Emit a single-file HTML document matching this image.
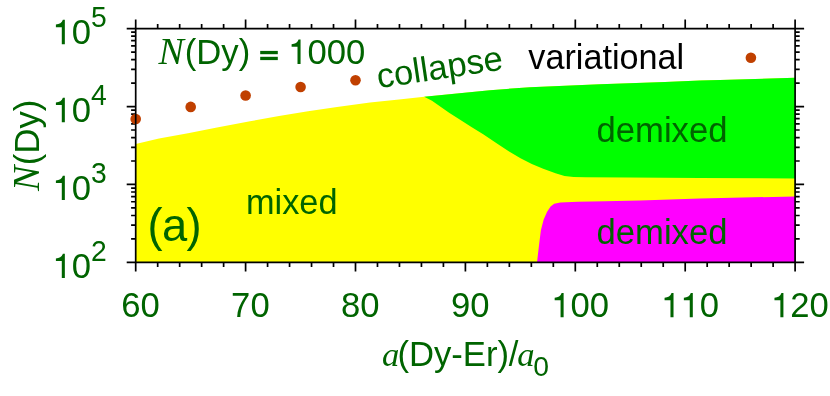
<!DOCTYPE html>
<html><head><meta charset="utf-8"><title>phase diagram</title>
<style>
html,body{margin:0;padding:0;background:#fff;}
body{width:830px;height:396px;overflow:hidden;font-family:"Liberation Sans",sans-serif;}
svg{display:block;will-change:transform;}
</style></head><body>
<svg width="830" height="396" viewBox="0 0 830 396">
<rect width="830" height="396" fill="#fff"/>
<polygon fill="#ffff00" points="135.7,144.0 159.0,138.5 188.0,133.2 217.0,127.4 250.0,121.2 279.0,116.1 308.0,111.3 337.0,107.0 370.0,102.4 399.0,99.6 424.2,96.8 457.0,93.4 490.0,90.2 530.0,87.2 600.0,84.3 665.0,82.0 700.0,80.4 720.0,80.0 795.1,77.8 795.1,262.4 135.7,262.4"/>
<polygon fill="#00ff00" points="424.2,96.8 457.0,93.4 490.0,90.2 530.0,87.2 600.0,84.3 665.0,82.0 700.0,80.4 720.0,80.0 795.1,77.8 795.1,178.5 700.0,178.0 630.0,177.5 586.0,177.3 573.6,177.0 564.5,176.1 555.5,173.3 543.2,168.8 531.8,164.0 520.5,158.3 509.1,151.6 497.7,144.0 483.2,134.3 471.8,127.2 460.5,120.1 449.1,112.7 437.7,104.8 432.0,100.8"/>
<polygon fill="#ff00ff" points="537.0,262.4 539.1,244.5 540.9,230.3 543.6,219.7 547.1,211.8 550.6,206.5 554.2,203.8 560.3,202.4 578.0,201.7 605.0,201.2 640.0,200.4 700.0,198.6 795.1,196.4 795.1,262.4"/>
<path d="M135.70 262.40v9.00M135.70 28.60v-9.00M157.68 262.40v4.60M157.68 28.60v-4.60M179.66 262.40v4.60M179.66 28.60v-4.60M201.64 262.40v4.60M201.64 28.60v-4.60M223.62 262.40v4.60M223.62 28.60v-4.60M245.60 262.40v9.00M245.60 28.60v-9.00M267.58 262.40v4.60M267.58 28.60v-4.60M289.56 262.40v4.60M289.56 28.60v-4.60M311.54 262.40v4.60M311.54 28.60v-4.60M333.52 262.40v4.60M333.52 28.60v-4.60M355.50 262.40v9.00M355.50 28.60v-9.00M377.48 262.40v4.60M377.48 28.60v-4.60M399.46 262.40v4.60M399.46 28.60v-4.60M421.44 262.40v4.60M421.44 28.60v-4.60M443.42 262.40v4.60M443.42 28.60v-4.60M465.40 262.40v9.00M465.40 28.60v-9.00M487.38 262.40v4.60M487.38 28.60v-4.60M509.36 262.40v4.60M509.36 28.60v-4.60M531.34 262.40v4.60M531.34 28.60v-4.60M553.32 262.40v4.60M553.32 28.60v-4.60M575.30 262.40v9.00M575.30 28.60v-9.00M597.28 262.40v4.60M597.28 28.60v-4.60M619.26 262.40v4.60M619.26 28.60v-4.60M641.24 262.40v4.60M641.24 28.60v-4.60M663.22 262.40v4.60M663.22 28.60v-4.60M685.20 262.40v9.00M685.20 28.60v-9.00M707.18 262.40v4.60M707.18 28.60v-4.60M729.16 262.40v4.60M729.16 28.60v-4.60M751.14 262.40v4.60M751.14 28.60v-4.60M773.12 262.40v4.60M773.12 28.60v-4.60M795.10 262.40v9.00M795.10 28.60v-9.00M135.70 262.40h-9.00M795.10 262.40h9.00M135.70 238.94h-4.60M795.10 238.94h4.60M135.70 225.22h-4.60M795.10 225.22h4.60M135.70 215.48h-4.60M795.10 215.48h4.60M135.70 207.93h-4.60M795.10 207.93h4.60M135.70 201.76h-4.60M795.10 201.76h4.60M135.70 196.54h-4.60M795.10 196.54h4.60M135.70 192.02h-4.60M795.10 192.02h4.60M135.70 188.03h-4.60M795.10 188.03h4.60M135.70 184.47h-9.00M795.10 184.47h9.00M135.70 161.01h-4.60M795.10 161.01h4.60M135.70 147.28h-4.60M795.10 147.28h4.60M135.70 137.55h-4.60M795.10 137.55h4.60M135.70 129.99h-4.60M795.10 129.99h4.60M135.70 123.82h-4.60M795.10 123.82h4.60M135.70 118.61h-4.60M795.10 118.61h4.60M135.70 114.09h-4.60M795.10 114.09h4.60M135.70 110.10h-4.60M795.10 110.10h4.60M135.70 106.53h-9.00M795.10 106.53h9.00M135.70 83.07h-4.60M795.10 83.07h4.60M135.70 69.35h-4.60M795.10 69.35h4.60M135.70 59.61h-4.60M795.10 59.61h4.60M135.70 52.06h-4.60M795.10 52.06h4.60M135.70 45.89h-4.60M795.10 45.89h4.60M135.70 40.67h-4.60M795.10 40.67h4.60M135.70 36.15h-4.60M795.10 36.15h4.60M135.70 32.17h-4.60M795.10 32.17h4.60M135.70 28.60h-9.00M795.10 28.60h9.00" fill="none" stroke="#000" stroke-width="1.70" stroke-linecap="butt"/>
<circle cx="135.7" cy="119.0" r="5.3" fill="#c04000"/>
<circle cx="190.7" cy="106.9" r="5.3" fill="#c04000"/>
<circle cx="245.6" cy="95.5" r="5.3" fill="#c04000"/>
<circle cx="300.6" cy="87.0" r="5.3" fill="#c04000"/>
<circle cx="355.5" cy="80.2" r="5.3" fill="#c04000"/>
<circle cx="750.9" cy="57.7" r="5.3" fill="#c04000"/>
<path d="M135.70 28.60H795.10V262.40H135.70Z" fill="none" stroke="#000" stroke-width="1.70" stroke-linejoin="miter"/>
<g font-family="'Liberation Sans', sans-serif" font-size="34.67" fill="#006400">
<text transform="translate(121.22 317.30) scale(1 1.025)" font-size="34.67">6</text><text transform="translate(140.50 317.30) scale(1 1.025)" font-size="34.67">0</text>
<text transform="translate(231.12 317.30) scale(1 1.025)" font-size="34.67">7</text><text transform="translate(250.40 317.30) scale(1 1.025)" font-size="34.67">0</text>
<text transform="translate(341.02 317.30) scale(1 1.025)" font-size="34.67">8</text><text transform="translate(360.30 317.30) scale(1 1.025)" font-size="34.67">0</text>
<text transform="translate(450.92 317.30) scale(1 1.025)" font-size="34.67">9</text><text transform="translate(470.20 317.30) scale(1 1.025)" font-size="34.67">0</text>
<path transform="translate(551.17 317.30) scale(0.03467 -0.03467)" d="M271 0V492H101V566C200 575 275 610 302 703H359V0Z"/><text transform="translate(570.46 317.30) scale(1 1.025)" font-size="34.67">0</text><text transform="translate(589.74 317.30) scale(1 1.025)" font-size="34.67">0</text>
<path transform="translate(661.07 317.30) scale(0.03467 -0.03467)" d="M271 0V492H101V566C200 575 275 610 302 703H359V0Z"/><path transform="translate(680.36 317.30) scale(0.03467 -0.03467)" d="M271 0V492H101V566C200 575 275 610 302 703H359V0Z"/><text transform="translate(699.64 317.30) scale(1 1.025)" font-size="34.67">0</text>
<path transform="translate(770.97 317.30) scale(0.03467 -0.03467)" d="M271 0V492H101V566C200 575 275 610 302 703H359V0Z"/><text transform="translate(790.26 317.30) scale(1 1.025)" font-size="34.67">2</text><text transform="translate(809.54 317.30) scale(1 1.025)" font-size="34.67">0</text>
<path transform="translate(52.40 278.00) scale(0.03467 -0.03467)" d="M271 0V492H101V566C200 575 275 610 302 703H359V0Z"/><text transform="translate(71.68 278.00) scale(1 1.025)" font-size="34.67">0</text>
<text transform="translate(91.07 261.00) scale(1 1.025)" font-size="28.30">2</text>
<path transform="translate(52.40 200.07) scale(0.03467 -0.03467)" d="M271 0V492H101V566C200 575 275 610 302 703H359V0Z"/><text transform="translate(71.68 200.07) scale(1 1.025)" font-size="34.67">0</text>
<text transform="translate(91.07 183.07) scale(1 1.025)" font-size="28.30">3</text>
<path transform="translate(52.40 122.13) scale(0.03467 -0.03467)" d="M271 0V492H101V566C200 575 275 610 302 703H359V0Z"/><text transform="translate(71.68 122.13) scale(1 1.025)" font-size="34.67">0</text>
<text transform="translate(91.07 105.13) scale(1 1.025)" font-size="28.30">4</text>
<path transform="translate(52.40 44.20) scale(0.03467 -0.03467)" d="M271 0V492H101V566C200 575 275 610 302 703H359V0Z"/><text transform="translate(71.68 44.20) scale(1 1.025)" font-size="34.67">0</text>
<text transform="translate(91.07 27.20) scale(1 1.025)" font-size="28.30">5</text>
<text transform="translate(39.2 191.1) rotate(-90)"><tspan font-family="'Liberation Serif', serif" font-style="italic" font-size="38">N</tspan><tspan dx="0.6">(Dy)</tspan></text>
<text x="382" y="365.7"><tspan font-family="'Liberation Serif', serif" font-style="italic">a</tspan><tspan dx="-1.9">(Dy-Er)</tspan><tspan dx="-0.3">/</tspan><tspan dx="-1.2" font-family="'Liberation Serif', serif" font-style="italic">a</tspan><tspan font-size="28.30" dx="-1.2" dy="10.6">0</tspan></text>
<text x="158.4" y="63.9"><tspan font-family="'Liberation Serif', serif" font-style="italic" font-size="38">N</tspan><tspan dx="1.0">(Dy)</tspan></text>
<rect x="260.2" y="50.9" width="17.6" height="3.3"/><rect x="260.2" y="56.8" width="17.6" height="3.3"/>
<path transform="translate(288.11 63.90) scale(0.03467 -0.03467)" d="M271 0V492H101V566C200 575 275 610 302 703H359V0Z"/><text transform="translate(307.39 63.90) scale(1 1.025)" font-size="34.67">0</text><text transform="translate(326.67 63.90) scale(1 1.025)" font-size="34.67">0</text><text transform="translate(345.96 63.90) scale(1 1.025)" font-size="34.67">0</text>
<text transform="translate(378.4 88.2) rotate(-8.5)">collapse</text>
<text x="528.3" y="69.2" fill="#000" font-size="34.2">variational</text>
<text x="596.5" y="141.6">demixed</text>
<text x="596.5" y="243.9">demixed</text>
<text x="246.0" y="214.0" font-size="34.3">mixed</text>
<text x="147.5" y="241.4" font-size="45.3">(<tspan dx="-0.6">a</tspan><tspan dx="-0.6">)</tspan></text>
</g>
</svg>
</body></html>
